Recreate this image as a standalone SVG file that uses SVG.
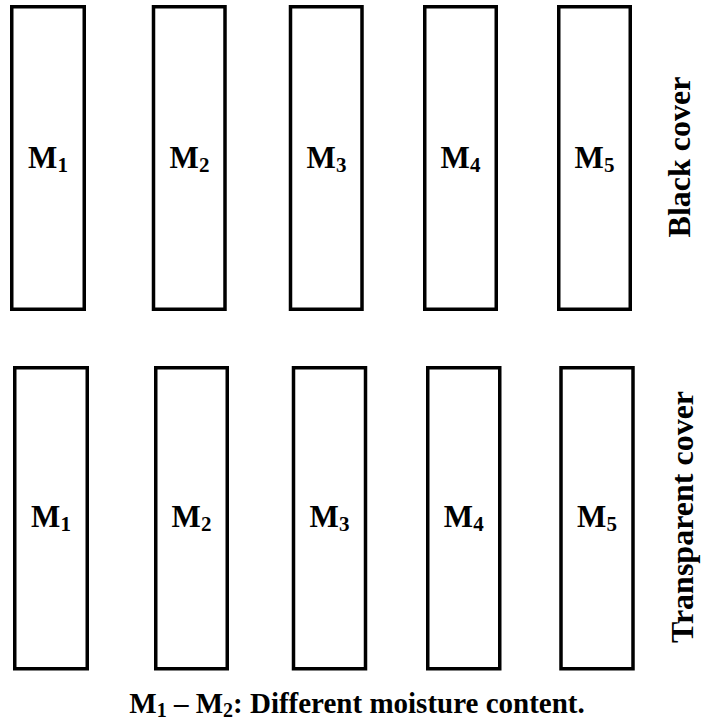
<svg xmlns="http://www.w3.org/2000/svg" width="701" height="723" viewBox="0 0 701 723">
<style>
.box{fill:#fff;stroke:#000;stroke-width:3.5}
.lbl{font-family:"Liberation Serif","Times New Roman",serif;font-weight:bold;font-size:31px;fill:#000;text-anchor:middle}
.sub{font-size:21px}
.side{font-family:"Liberation Serif","Times New Roman",serif;font-weight:bold;font-size:32px;fill:#000;text-anchor:middle}
.cap{font-family:"Liberation Serif","Times New Roman",serif;font-weight:bold;font-size:29px;fill:#000;text-anchor:middle}
.csub{font-size:20px}
</style>
<rect width="701" height="723" fill="#fff"/>
<g id="black-row">
<g id="top-M1"><rect class="box" x="11.75" y="6.75" width="72.5" height="302.5"/><text class="lbl" x="48" y="168">M<tspan class="sub" dy="4">1</tspan></text></g>
<g id="top-M2"><rect class="box" x="153.5" y="6.75" width="71.5" height="302.5"/><text class="lbl" x="189.5" y="168">M<tspan class="sub" dy="4">2</tspan></text></g>
<g id="top-M3"><rect class="box" x="290.5" y="6.75" width="71.5" height="302.5"/><text class="lbl" x="326.5" y="168">M<tspan class="sub" dy="4">3</tspan></text></g>
<g id="top-M4"><rect class="box" x="424.75" y="6.75" width="71.5" height="302.5"/><text class="lbl" x="460.5" y="168">M<tspan class="sub" dy="4">4</tspan></text></g>
<g id="top-M5"><rect class="box" x="558.75" y="6.75" width="71.5" height="302.5"/><text class="lbl" x="594.5" y="168">M<tspan class="sub" dy="4">5</tspan></text></g>
</g>
<g id="transparent-row">
<g id="bot-M1"><rect class="box" x="14.75" y="367.75" width="72.5" height="301"/><text class="lbl" x="51" y="527">M<tspan class="sub" dy="4">1</tspan></text></g>
<g id="bot-M2"><rect class="box" x="155.75" y="367.75" width="71.5" height="301"/><text class="lbl" x="191.5" y="527">M<tspan class="sub" dy="4">2</tspan></text></g>
<g id="bot-M3"><rect class="box" x="293.5" y="367.75" width="72" height="301"/><text class="lbl" x="329.5" y="527">M<tspan class="sub" dy="4">3</tspan></text></g>
<g id="bot-M4"><rect class="box" x="427.75" y="367.75" width="72" height="301"/><text class="lbl" x="463.75" y="527">M<tspan class="sub" dy="4">4</tspan></text></g>
<g id="bot-M5"><rect class="box" x="561" y="367.75" width="72" height="301"/><text class="lbl" x="597" y="527">M<tspan class="sub" dy="4">5</tspan></text></g>
</g>
<g id="side-labels">
<text class="side" transform="translate(690,157) rotate(-90)">Black cover</text>
<text class="side" transform="translate(693,517) rotate(-90)">Transparent cover</text>
</g>
<g id="caption">
<text class="cap" x="357" y="713">M<tspan class="csub" dy="4">1</tspan><tspan dy="-4"> – M</tspan><tspan class="csub" dy="4">2</tspan><tspan dy="-4">: Different moisture content.</tspan></text>
</g>
</svg>
